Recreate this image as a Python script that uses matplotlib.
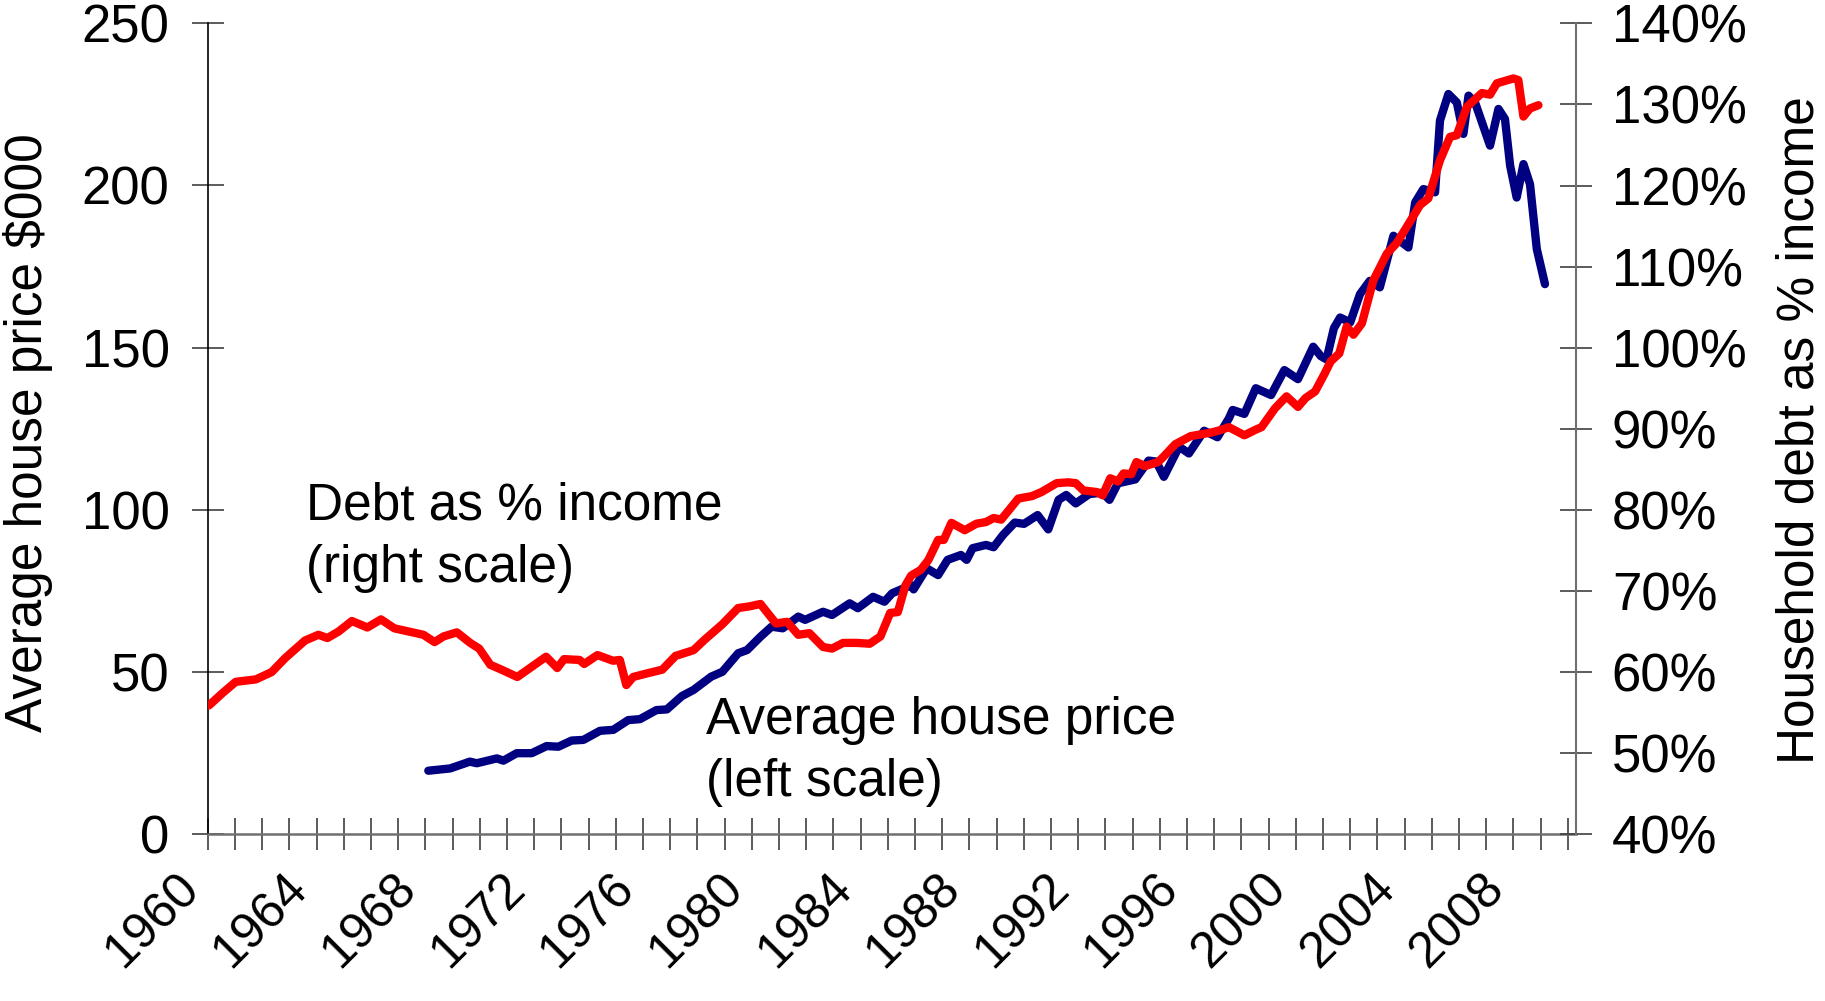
import matplotlib
matplotlib.use("Agg")
import matplotlib.pyplot as plt

plt.rcParams['font.family'] = ['Liberation Sans', 'DejaVu Sans']

# ---- data ----
debt_years = [1960.05, 1960.54, 1961.03, 1961.77, 1962.35, 1962.84, 1963.58, 1964.07, 1964.40, 1964.81,
              1965.30, 1965.87, 1966.37, 1966.86, 1967.93, 1968.34, 1968.67, 1969.16, 1969.65, 1969.98,
              1970.39, 1970.80, 1971.38, 1972.44, 1972.85, 1973.10, 1973.67, 1973.84, 1974.33, 1974.90,
              1975.15, 1975.39, 1975.64, 1976.22, 1976.71, 1977.20, 1977.86, 1978.27, 1978.92, 1979.50,
              1979.91, 1980.32, 1980.89, 1981.30, 1981.71, 1982.12, 1982.62, 1982.95, 1983.36, 1983.85,
              1984.34, 1984.73, 1985.09, 1985.37, 1985.65, 1985.86, 1986.21, 1986.49, 1986.85, 1987.06,
              1987.34, 1987.83, 1988.26, 1988.61, 1988.89, 1989.17, 1989.80, 1990.30, 1990.65, 1991.21,
              1991.63, 1991.91, 1992.19, 1992.69, 1992.90, 1993.18, 1993.46, 1993.67, 1993.95, 1994.14,
              1994.45, 1994.94, 1995.15, 1995.57, 1996.14, 1996.84, 1997.19, 1997.54, 1998.11, 1998.53,
              1998.74, 1999.23, 1999.66, 2000.08, 2000.36, 2000.71, 2001.06, 2001.28, 2001.60, 2001.87,
              2002.12, 2002.43, 2002.85, 2003.35, 2003.71, 2004.08, 2004.57, 2004.87, 2005.30, 2005.67,
              2005.92, 2006.29, 2006.84, 2007.14, 2007.39, 2008.00, 2008.18, 2008.37, 2008.61, 2008.92]
debt_pct = [55.9, 57.4, 58.8, 59.1, 60.0, 61.7, 63.9, 64.6, 64.2, 65.0,
            66.3, 65.5, 66.5, 65.4, 64.6, 63.7, 64.4, 64.9, 63.6, 62.9,
            60.9, 60.3, 59.4, 61.9, 60.5, 61.6, 61.5, 61.0, 62.1, 61.4,
            61.5, 58.4, 59.4, 59.9, 60.3, 62.0, 62.7, 64.0, 65.9, 67.9,
            68.1, 68.4, 66.0, 66.2, 64.6, 64.8, 63.1, 62.9, 63.6, 63.6,
            63.5, 64.4, 67.3, 67.4, 70.7, 71.9, 72.6, 73.8, 76.3, 76.3,
            78.4, 77.5, 78.3, 78.5, 79.0, 78.8, 81.4, 81.7, 82.2, 83.3,
            83.4, 83.3, 82.4, 82.2, 81.8, 83.9, 83.5, 84.5, 84.4, 85.9,
            85.4, 85.9, 86.6, 88.1, 89.1, 89.5, 89.8, 90.2, 89.2, 89.9,
            90.2, 92.5, 94.0, 92.7, 93.8, 94.6, 96.8, 98.3, 99.3, 102.6,
            101.6, 103.0, 108.3, 111.6, 112.9, 114.9, 117.6, 118.4, 123.1, 126.0,
            126.2, 129.7, 131.4, 131.2, 132.6, 133.2, 133.0, 128.5, 129.5, 129.9]

price_years = [1968.11, 1968.91, 1969.64, 1969.89, 1970.63, 1970.87, 1971.36, 1971.91, 1972.46, 1972.89,
               1973.38, 1973.81, 1974.42, 1974.91, 1975.46, 1975.89, 1976.50, 1976.88, 1977.43, 1977.86,
               1978.51, 1978.92, 1979.50, 1979.83, 1980.32, 1980.73, 1981.14, 1981.71, 1981.96, 1982.62,
               1982.95, 1983.60, 1983.90, 1984.46, 1984.88, 1985.16, 1985.86, 1985.95, 1986.43, 1986.85,
               1987.20, 1987.69, 1987.90, 1988.12, 1988.61, 1988.89, 1989.24, 1989.67, 1990.01, 1990.51,
               1990.90, 1991.28, 1991.56, 1991.91, 1992.41, 1992.90, 1993.15, 1993.46, 1994.10, 1994.59,
               1994.87, 1995.15, 1995.71, 1996.07, 1996.63, 1997.12, 1997.54, 1997.68, 1998.11, 1998.53,
               1999.09, 1999.58, 2000.08, 2000.64, 2000.92, 2001.13, 2001.40, 2001.63, 2002.00, 2002.36,
               2002.72, 2003.09, 2003.59, 2004.14, 2004.39, 2004.69, 2005.12, 2005.30, 2005.61, 2005.92,
               2006.16, 2006.35, 2006.59, 2007.14, 2007.45, 2007.69, 2007.88, 2008.12, 2008.37, 2008.61,
               2008.86, 2009.16]
price_k = [19.6, 20.3, 22.4, 21.9, 23.4, 22.7, 25.0, 25.0, 27.2, 27.0,
           28.9, 29.1, 31.9, 32.2, 35.2, 35.5, 38.3, 38.5, 42.6, 44.5,
           48.6, 50.1, 55.8, 56.8, 60.9, 64.0, 63.5, 67.1, 66.1, 68.6,
           67.6, 71.2, 69.7, 73.2, 71.7, 74.3, 76.8, 75.5, 82.0, 79.9,
           84.6, 86.1, 84.6, 88.2, 89.2, 88.5, 92.3, 96.1, 95.7, 98.4,
           94.0, 103.1, 104.6, 102.0, 104.9, 105.3, 103.1, 108.2, 109.4, 115.2,
           114.9, 110.2, 119.5, 117.4, 124.4, 122.4, 128.2, 130.8, 129.6, 137.5,
           135.4, 143.1, 140.3, 150.3, 147.4, 146.4, 156.0, 159.3, 157.8, 166.5,
           170.6, 168.6, 184.5, 180.9, 194.8, 198.9, 197.9, 220.0, 228.2, 225.6,
           215.9, 227.7, 225.6, 212.3, 223.6, 220.5, 206.1, 196.3, 206.6, 200.4,
           180.4, 169.6]

year_ticks = list(range(1960, 2011))
year_labels = [str(y) if (y - 1960) % 4 == 0 and y <= 2008 else "" for y in year_ticks]
left_ticks = [0, 50, 100, 150, 200, 250]
right_ticks = [40, 50, 60, 70, 80, 90, 100, 110, 120, 130, 140]

# ---- figure ----
W, H = 1825, 1001
fig = plt.figure(figsize=(W / 100, H / 100), dpi=100)
ax = fig.add_axes([207.7 / W, 1 - 834.3 / H, (1575.7 - 207.7) / W, (834.3 - 23.3) / H])
ax2 = ax.twinx()

ax.plot(price_years, price_k, color='#000080', lw=6, solid_joinstyle='round', solid_capstyle='round')
ax2.plot(debt_years, debt_pct, color='#FF0000', lw=6, solid_joinstyle='round', solid_capstyle='round')

ax.set_xlim(1960, 2010.29)
ax.set_ylim(0, 250)
ax2.set_ylim(40, 140)

ax.set_yticks(left_ticks)
ax.set_yticklabels([str(v) for v in left_ticks])
ax2.set_yticks(right_ticks)
ax2.set_yticklabels([f"{v}%" for v in right_ticks])

ax.set_xticks(year_ticks)
ax.set_xticklabels(year_labels, rotation=45, ha='right', va='bottom', rotation_mode='anchor')

for a in (ax, ax2):
    a.spines['top'].set_visible(False)
ax.spines['right'].set_visible(False)
ax2.spines['left'].set_visible(False)
ax2.spines['bottom'].set_visible(False)
ax.spines['left'].set_color('black')
ax.spines['left'].set_linewidth(1.2)
ax.spines['bottom'].set_color('#707070')
ax.spines['bottom'].set_linewidth(1.8)
ax2.spines['right'].set_color('#707070')
ax2.spines['right'].set_linewidth(1.5)

ax.tick_params(axis='y', direction='inout', length=23, width=1.2, color='#404040',
               labelsize=38, pad=16)
ax.tick_params(axis='x', direction='inout', length=23, width=1.2, color='#404040',
               labelsize=36, pad=34)
ax2.tick_params(axis='y', direction='inout', length=23, width=1.2, color='#404040',
                labelsize=38, pad=14.5)

fig.text(28 / W, 1 - 433 / H, "Average house price $000", rotation=90,
         ha='center', va='center', fontsize=37)
fig.text(1800 / W, 1 - 430 / H, "Household debt as % income", rotation=90,
         ha='center', va='center', fontsize=37)

ax2.text(1963.6, 83.5, "Debt as % income\n(right scale)", fontsize=37,
         ha='left', va='top', linespacing=1.35)
ax.text(1978.3, 42.6, "Average house price\n(left scale)", fontsize=37,
        ha='left', va='top', linespacing=1.35)

fig.savefig("out.png", dpi=100)
